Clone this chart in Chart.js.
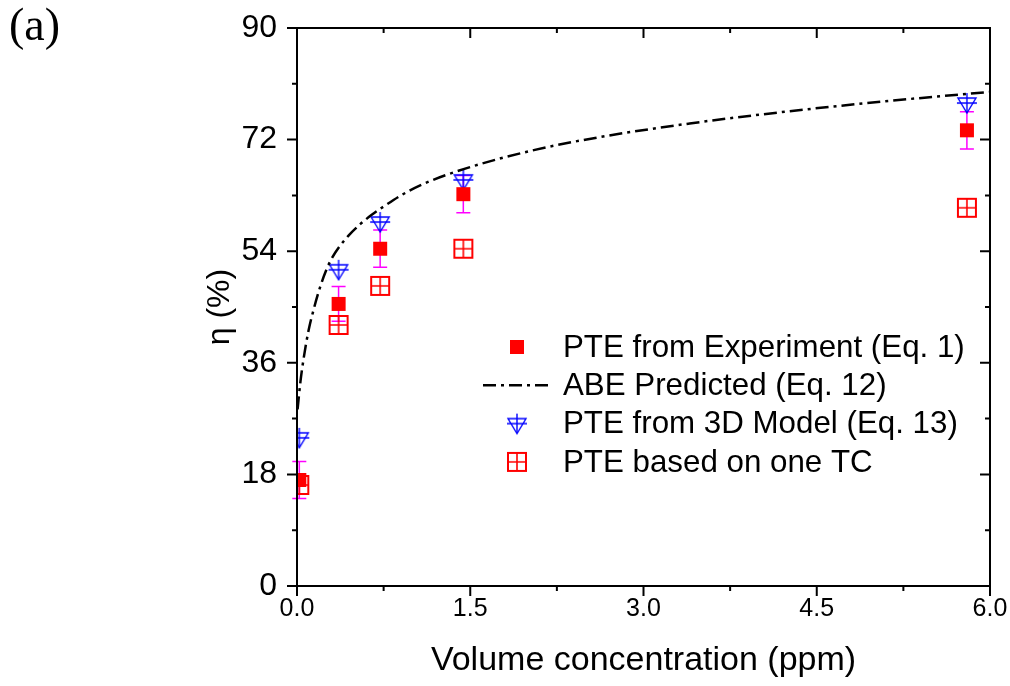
<!DOCTYPE html>
<html>
<head>
<meta charset="utf-8">
<script src="https://cdn.jsdelivr.net/npm/chart.js@4.4.1/dist/chart.umd.min.js"></script>
<style>
  html, body { margin: 0; padding: 0; background: #fff; }
  #wrap { width: 1010px; height: 686px; position: relative; }
</style>
</head>
<body>
<div id="wrap"><canvas id="pteChart" width="1010" height="686"></canvas></div>
<script>
// values
const concentration = [0.02, 0.36, 0.72, 1.44, 5.8];
const pteExperiment = [17.1, 45.5, 54.4, 63.2, 73.5];
const pteExperimentErr = [3.0, 2.8, 3.0, 3.0, 3.0];
const pte3DModel = [23.9, 51.0, 58.7, 65.5, 77.9];
const pteOneTC = [16.3, 42.1, 48.4, 54.4, 61.0];

const abeX = [0.005, 0.03, 0.06, 0.1, 0.15, 0.2, 0.25, 0.3, 0.37, 0.45, 0.55, 0.65, 0.75, 0.9, 1.1, 1.47, 2.05, 2.62, 3.4, 4.18, 5.05, 6.0];
const abeY = [28.5, 33.0, 37.0, 41.2, 45.0, 48.2, 50.8, 52.8, 54.8, 56.6, 58.4, 59.9, 61.2, 63.0, 64.9, 67.4, 70.3, 72.4, 74.6, 76.4, 78.1, 79.7];

const xTicks = [0, 1.5, 3.0, 4.5, 6.0];
const yTicks = [0, 18, 36, 54, 72, 90];

const seriesLabels = [
  'PTE from Experiment (Eq. 1)',
  'ABE Predicted (Eq. 12)',
  'PTE from 3D Model (Eq. 13)',
  'PTE based on one TC'
];

const FONT = '"Liberation Sans", Arial, sans-serif';
const abeDash = [13, 5, 3, 5];

// marker images
function makeMarker(size, draw) {
  const c = document.createElement('canvas');
  c.width = size; c.height = size;
  draw(c.getContext('2d'), size / 2);
  return c;
}
const squareMarker = makeMarker(16, (g, m) => {
  g.fillStyle = '#ff0000';
  g.fillRect(m - 7, m - 7, 14, 14);
});
const squarePlusMarker = makeMarker(22, (g, m) => {
  g.strokeStyle = '#ff0000';
  g.lineWidth = 2;
  g.strokeRect(m - 9, m - 9, 18, 18);
  g.lineWidth = 1.6;
  g.beginPath();
  g.moveTo(m, m - 9); g.lineTo(m, m + 9);
  g.moveTo(m - 9, m); g.lineTo(m + 9, m);
  g.stroke();
});
const trianglePlusMarker = makeMarker(26, (g, m) => {
  g.strokeStyle = '#0000ff';
  g.lineWidth = 1.4;
  g.beginPath();
  g.moveTo(m - 9, m - 5);
  g.lineTo(m + 9, m - 5);
  g.lineTo(m, m + 10);
  g.closePath();
  g.stroke();
  g.beginPath();
  g.moveTo(m, m - 10); g.lineTo(m, m + 10);
  g.moveTo(m - 10, m); g.lineTo(m + 10, m);
  g.stroke();
});

function pts(xs, ys) {
  return xs.map((x, i) => ({ x: x, y: ys[i] }));
}

// error bars under the experiment squares
const errorBars = {
  id: 'errorBars',
  beforeDatasetsDraw(chart) {
    const { ctx, scales: { x, y } } = chart;
    ctx.save();
    ctx.strokeStyle = '#ff00ff';
    ctx.lineWidth = 1.5;
    concentration.forEach((c, i) => {
      const px = x.getPixelForValue(c);
      const top = y.getPixelForValue(pteExperiment[i] + pteExperimentErr[i]);
      const bot = y.getPixelForValue(pteExperiment[i] - pteExperimentErr[i]);
      ctx.beginPath();
      ctx.moveTo(px, top); ctx.lineTo(px, bot);
      ctx.moveTo(px - 7, top); ctx.lineTo(px + 7, top);
      ctx.moveTo(px - 7, bot); ctx.lineTo(px + 7, bot);
      ctx.stroke();
    });
    ctx.restore();
  }
};

// box frame with Origin style ticks (out on left/bottom, in on top/right)
const frameAxes = {
  id: 'frameAxes',
  afterDraw(chart) {
    const { ctx, chartArea: a, scales: { x, y } } = chart;
    ctx.save();
    ctx.strokeStyle = '#000';
    ctx.lineWidth = 2;
    ctx.strokeRect(a.left, a.top, a.right - a.left, a.bottom - a.top);

    const major = 10, minor = 5;
    const xv = x.ticks.map(t => t.value);
    const yv = y.ticks.map(t => t.value);
    ctx.beginPath();
    xv.forEach((v, i) => {
      const px = x.getPixelForValue(v);
      ctx.moveTo(px, a.bottom); ctx.lineTo(px, a.bottom + major);
      ctx.moveTo(px, a.top); ctx.lineTo(px, a.top + major);
      if (i < xv.length - 1) {
        const pm = x.getPixelForValue((v + xv[i + 1]) / 2);
        ctx.moveTo(pm, a.bottom); ctx.lineTo(pm, a.bottom + minor);
        ctx.moveTo(pm, a.top); ctx.lineTo(pm, a.top + minor);
      }
    });
    yv.forEach((v, i) => {
      const py = y.getPixelForValue(v);
      ctx.moveTo(a.left, py); ctx.lineTo(a.left - major, py);
      ctx.moveTo(a.right, py); ctx.lineTo(a.right - major, py);
      if (i < yv.length - 1) {
        const pm = y.getPixelForValue((v + yv[i + 1]) / 2);
        ctx.moveTo(a.left, pm); ctx.lineTo(a.left - minor, pm);
        ctx.moveTo(a.right, pm); ctx.lineTo(a.right - minor, pm);
      }
    });
    ctx.stroke();

    // panel tag
    ctx.fillStyle = '#000';
    ctx.font = '46px "Liberation Serif", "Times New Roman", serif';
    ctx.textBaseline = 'middle';
    ctx.textAlign = 'left';
    ctx.fillText('(a)', 9, 28);
    ctx.restore();
  }
};

// legend inside the plot
const insideLegend = {
  id: 'insideLegend',
  afterDraw(chart) {
    const { ctx } = chart;
    const symX = 517, textX = 563, rowY = 347, rowGap = 38.3;
    ctx.save();
    ctx.font = '31.3px ' + FONT;
    ctx.fillStyle = '#000';
    ctx.textBaseline = 'middle';
    ctx.textAlign = 'left';
    chart.data.datasets.forEach((ds, i) => {
      const yy = rowY + i * rowGap;
      if (ds.showLine) {
        ctx.save();
        ctx.strokeStyle = '#000';
        ctx.lineWidth = 2.5;
        ctx.setLineDash(abeDash);
        ctx.beginPath();
        ctx.moveTo(483, yy); ctx.lineTo(550, yy);
        ctx.stroke();
        ctx.restore();
      } else {
        const img = ds.pointStyle;
        ctx.drawImage(img, symX - img.width / 2, yy - img.height / 2);
      }
      ctx.fillText(ds.label, textX, yy + 1);
    });
    ctx.restore();
  }
};

new Chart(document.getElementById('pteChart'), {
  type: 'scatter',
  data: {
    datasets: [
      {
        label: seriesLabels[0],
        data: pts(concentration, pteExperiment),
        pointStyle: squareMarker,
        pointRadius: 8,
        clip: 0
      },
      {
        label: seriesLabels[1],
        data: pts(abeX, abeY),
        showLine: true,
        borderColor: '#000',
        borderWidth: 2.5,
        borderDash: abeDash,
        pointRadius: 0,
        cubicInterpolationMode: 'monotone'
      },
      {
        label: seriesLabels[2],
        data: pts(concentration, pte3DModel),
        pointStyle: trianglePlusMarker,
        pointRadius: 12,
        clip: 0
      },
      {
        label: seriesLabels[3],
        data: pts(concentration, pteOneTC),
        pointStyle: squarePlusMarker,
        pointRadius: 11,
        clip: 0
      }
    ]
  },
  options: {
    responsive: false,
    animation: false,
    layout: { padding: { left: 0, right: 20, top: 28, bottom: 0 } },
    plugins: {
      legend: { display: false },
      tooltip: { enabled: false }
    },
    scales: {
      x: {
        type: 'linear',
        min: 0,
        max: 6,
        afterBuildTicks: s => { s.ticks = xTicks.map(v => ({ value: v })); },
        ticks: {
          color: '#000',
          font: { family: FONT, size: 25 },
          padding: 8,
          maxRotation: 0,
          autoSkip: false,
          callback: v => Number(v).toFixed(1)
        },
        grid: { display: false, drawTicks: false },
        border: { display: false },
        title: {
          display: true,
          text: 'Volume concentration (ppm)',
          color: '#000',
          font: { family: FONT, size: 34 },
          padding: { top: 0, bottom: 5 }
        },
        afterFit: s => { s.height = 100; s.paddingLeft = 0; s.paddingRight = 0; }
      },
      y: {
        min: 0,
        max: 90,
        afterBuildTicks: s => { s.ticks = yTicks.map(v => ({ value: v })); },
        ticks: {
          color: '#000',
          font: { family: FONT, size: 32 },
          padding: 20
        },
        grid: { display: false, drawTicks: false },
        border: { display: false },
        title: {
          display: true,
          text: 'η (%)',
          color: '#000',
          font: { family: FONT, size: 32 },
          padding: { top: 201, bottom: 0 }
        },
        afterFit: s => { s.width = 297; s.paddingTop = 0; s.paddingBottom = 0; }
      }
    }
  },
  plugins: [errorBars, frameAxes, insideLegend]
});
</script>
</body>
</html>
